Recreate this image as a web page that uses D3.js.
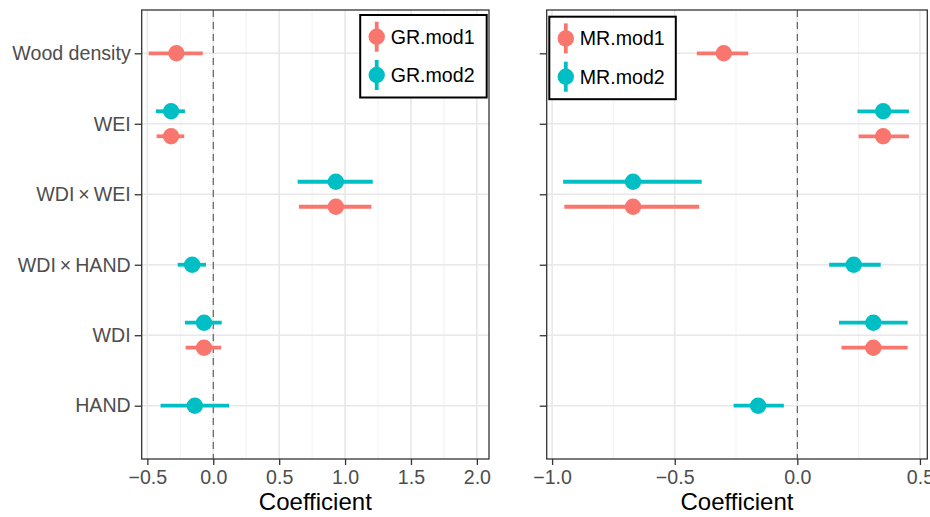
<!DOCTYPE html>
<html>
<head>
<meta charset="utf-8">
<script src="https://cdn.jsdelivr.net/npm/d3@7"></script>
<style>
  body { margin: 0; background: #fff; }
  svg { font-family: "Liberation Sans", Arial, sans-serif; }
</style>
</head>
<body>
<div id="chart"></div>
<script>
// terms, top to bottom
var terms = ["Wood density", "WEI", "WDI\u2009\u00d7\u2009WEI", "WDI\u2009\u00d7\u2009HAND", "WDI", "HAND"];
var grTicks = [-0.5, 0, 0.5, 1, 1.5, 2];
var mrTicks = [-1, -0.5, 0, 0.5];

// growth models (null = term not in model)
var grMod1Est = [-0.28, -0.32, 0.93, null, -0.07, null];
var grMod1Lo  = [-0.49, -0.43, 0.65, null, -0.21, null];
var grMod1Hi  = [-0.08, -0.22, 1.20, null, 0.06, null];
var grMod2Est = [null, -0.32, 0.93, -0.16, -0.07, -0.14];
var grMod2Lo  = [null, -0.435, 0.64, -0.27, -0.215, -0.40];
var grMod2Hi  = [null, -0.215, 1.21, -0.055, 0.064, 0.12];

// mortality models
var mrMod1Est = [-0.30, 0.35, -0.67, null, 0.31, null];
var mrMod1Lo  = [-0.41, 0.25, -0.95, null, 0.18, null];
var mrMod1Hi  = [-0.20, 0.455, -0.40, null, 0.45, null];
var mrMod2Est = [null, 0.35, -0.67, 0.23, 0.31, -0.16];
var mrMod2Lo  = [null, 0.245, -0.955, 0.13, 0.17, -0.26];
var mrMod2Hi  = [null, 0.455, -0.39, 0.34, 0.45, -0.055];

var colMod1 = "#F8766D", colMod2 = "#00BFC4";

var W = 930, H = 517;
var svg = d3.select("#chart").append("svg").attr("width", W).attr("height", H);

function rows(est, lo, hi, other) {
    var out = [];
    est.forEach(function (v, i) {
        if (v === null) return;
        out.push({ term: terms[i], est: v, lo: lo[i], hi: hi[i], both: other[i] !== null });
    });
    return out;
}

function fmt(d) {
    return d3.format(".1f")(d).replace("-", "\u2212");
}

function panel(opt) {
    var g = svg.append("g").attr("transform", "translate(" + opt.left + "," + opt.top + ")");
    var x = d3.scaleLinear().domain(opt.domain).range([0, opt.width]);
    var y = d3.scalePoint().domain(terms).range([43.3, 395.7]);
    var dodge = 12.5;

    // grid
    var minor = [];
    for (var i = 0; i < opt.ticks.length - 1; i++) minor.push((opt.ticks[i] + opt.ticks[i + 1]) / 2);
    g.selectAll(".minor").data(minor).enter().append("line")
        .attr("x1", x).attr("x2", x).attr("y1", 0).attr("y2", opt.height)
        .attr("stroke", "#f0f0f0").attr("stroke-width", 0.9);
    g.selectAll(".majorx").data(opt.ticks).enter().append("line")
        .attr("x1", x).attr("x2", x).attr("y1", 0).attr("y2", opt.height)
        .attr("stroke", "#e8e8e8").attr("stroke-width", 1.6);
    g.selectAll(".majory").data(terms).enter().append("line")
        .attr("x1", 0).attr("x2", opt.width).attr("y1", y).attr("y2", y)
        .attr("stroke", "#e8e8e8").attr("stroke-width", 1.6);

    // zero line
    g.append("line")
        .attr("x1", x(0)).attr("x2", x(0)).attr("y1", 0).attr("y2", opt.height)
        .attr("stroke", "#555").attr("stroke-width", 1.1).attr("stroke-dasharray", "7,5");

    // estimates
    var series = [
        { data: rows(opt.m1[0], opt.m1[1], opt.m1[2], opt.m2[0]), col: colMod1, off: dodge },
        { data: rows(opt.m2[0], opt.m2[1], opt.m2[2], opt.m1[0]), col: colMod2, off: -dodge }
    ];
    series.forEach(function (s) {
        var gg = g.append("g");
        var py = function (d) { return y(d.term) + (d.both ? s.off : 0); };
        gg.selectAll("line").data(s.data).enter().append("line")
            .attr("x1", function (d) { return x(d.lo); })
            .attr("x2", function (d) { return x(d.hi); })
            .attr("y1", py).attr("y2", py)
            .attr("stroke", s.col).attr("stroke-width", 3.8);
        gg.selectAll("circle").data(s.data).enter().append("circle")
            .attr("cx", function (d) { return x(d.est); })
            .attr("cy", py).attr("r", 8.2)
            .attr("fill", s.col);
    });

    // border
    g.append("rect").attr("width", opt.width).attr("height", opt.height)
        .attr("fill", "none").attr("stroke", "#333").attr("stroke-width", 1.3);

    // axes
    var xa = g.append("g").attr("transform", "translate(0," + opt.height + ")")
        .call(d3.axisBottom(x).tickValues(opt.ticks).tickSize(6).tickPadding(5).tickFormat(fmt));
    xa.select(".domain").remove();
    xa.selectAll("line").attr("stroke", "#333").attr("stroke-width", 1.3);
    xa.selectAll("text").attr("fill", "#4d4d4d").style("font-size", "19.6px").attr("dy", "0.71em");

    var ya = g.append("g")
        .call(d3.axisLeft(y).tickSize(7).tickPadding(4).tickFormat(opt.labels ? null : ""));
    ya.select(".domain").remove();
    ya.selectAll("line").attr("stroke", "#333").attr("stroke-width", 1.3);
    ya.selectAll("text").attr("fill", "#4d4d4d").style("font-size", "19.6px");

    g.append("text").attr("x", opt.width / 2).attr("y", opt.height + 51)
        .attr("text-anchor", "middle").style("font-size", "24px").attr("fill", "#000")
        .text("Coefficient");

    // legend
    var lg = g.append("g").attr("transform", "translate(" + opt.legend[0] + "," + opt.legend[1] + ")");
    lg.append("rect").attr("width", 126.5).attr("height", 82.5)
        .attr("fill", "#fff").attr("stroke", "#000").attr("stroke-width", 2);
    [[colMod1, opt.names[0], 21.7], [colMod2, opt.names[1], 60]].forEach(function (k) {
        lg.append("line").attr("x1", 16.5).attr("x2", 16.5)
            .attr("y1", k[2] - 15).attr("y2", k[2] + 15)
            .attr("stroke", k[0]).attr("stroke-width", 3.8);
        lg.append("circle").attr("cx", 16.5).attr("cy", k[2]).attr("r", 8.2).attr("fill", k[0]);
        lg.append("text").attr("x", 30.5).attr("y", k[2]).attr("dy", "0.35em")
            .style("font-size", "19.6px").attr("fill", "#000").text(k[1]);
    });
}

panel({
    left: 141.7, top: 10, width: 347.3, height: 449,
    domain: [-0.543, 2.092], ticks: grTicks, labels: true,
    m1: [grMod1Est, grMod1Lo, grMod1Hi], m2: [grMod2Est, grMod2Lo, grMod2Hi],
    names: ["GR.mod1", "GR.mod2"], legend: [218.5, 5]
});

panel({
    left: 546.7, top: 10, width: 380.6, height: 449,
    domain: [-1.022, 0.530], ticks: mrTicks, labels: false,
    m1: [mrMod1Est, mrMod1Lo, mrMod1Hi], m2: [mrMod2Est, mrMod2Lo, mrMod2Hi],
    names: ["MR.mod1", "MR.mod2"], legend: [2.6, 6.7]
});
</script>
</body>
</html>
